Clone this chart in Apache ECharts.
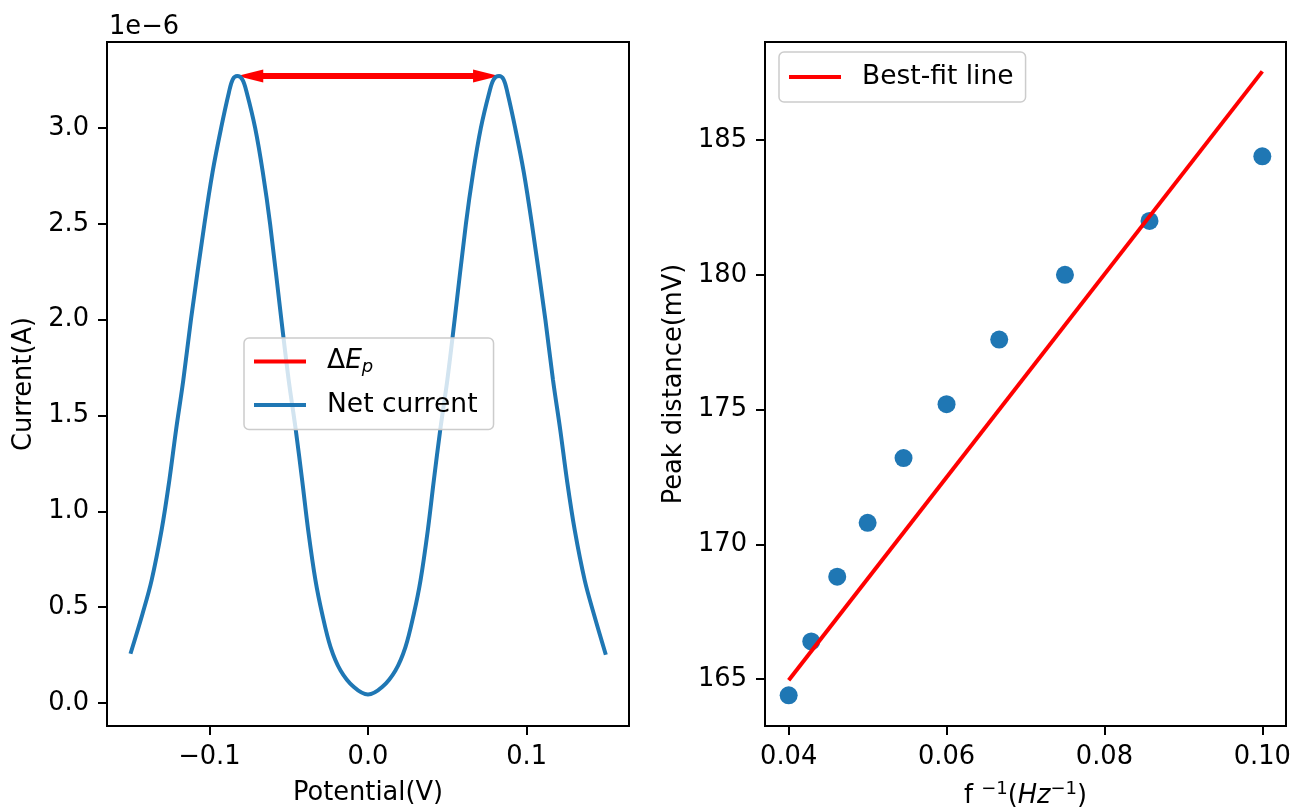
<!DOCTYPE html>
<html><head><meta charset="utf-8">
<script src="https://cdn.jsdelivr.net/npm/echarts@6/dist/echarts.min.js"></script>
<style>html,body{margin:0;padding:0;background:#fff}#c{width:1296px;height:810px}</style>
</head><body><div id="c"></div>
<script>
// ---- data (left panel: net current, in units of 1e-6 A) ----
const potential_V = [-0.1497,-0.1421,-0.1364,-0.1301,-0.1252,-0.1210,-0.1164,-0.1116,-0.1031,-0.0980,-0.0926,-0.0877,-0.0853,-0.0824,-0.0792,-0.0764,-0.0711,-0.0663,-0.0617,-0.0546,-0.0500,-0.0455,-0.0415,-0.0377,-0.0331,-0.0289,-0.0236,-0.0173,-0.0089,0,
                     0.0089,0.0173,0.0236,0.0289,0.0331,0.0377,0.0415,0.0455,0.0500,0.0546,0.0617,0.0663,0.0711,0.0764,0.0792,0.0826,0.0855,0.0879,0.0928,0.0982,0.1033,0.1118,0.1166,0.1212,0.1254,0.1303,0.1366,0.1423,0.1499];
const current_e6A = [0.257,0.466,0.640,0.902,1.163,1.424,1.686,2.00,2.50,2.77,3.00,3.185,3.254,3.272,3.254,3.185,3.00,2.77,2.50,2.00,1.686,1.424,1.163,0.902,0.640,0.466,0.292,0.170,0.083,0.044,
                     0.083,0.170,0.292,0.466,0.640,0.902,1.163,1.424,1.686,2.00,2.50,2.77,3.00,3.185,3.254,3.272,3.254,3.185,3.00,2.77,2.50,2.00,1.686,1.424,1.163,0.902,0.640,0.466,0.252];
// ---- data (right panel) ----
const inv_freq = [0.04, 0.04286, 0.04615, 0.05, 0.05455, 0.06, 0.06667, 0.075, 0.08571, 0.10];
const peak_distance_mV = [164.4, 166.4, 168.8, 170.8, 173.2, 175.2, 177.6, 180.0, 182.0, 184.4];
const fit_x = [0.04, 0.10];
const fit_y = [164.96, 187.55];
// ---- tick labels ----
const leftXTicks = [-0.1, 0, 0.1];
const leftYTicks = [0, 0.5, 1.0, 1.5, 2.0, 2.5, 3.0];
const rightXTicks = [0.04, 0.06, 0.08, 0.10];
const rightYTicks = [165, 170, 175, 180, 185];

const FONT = 'DejaVu Sans';
const FS = 25.7;
const LFS = 26.5;
const BLUE = '#1f77b4';
const RED = '#ff0000';

// peaks for the ΔEp arrow, found from the data
let iL = 0, iR = potential_V.length - 1;
potential_V.forEach((x, i) => {
  if (x < 0 && current_e6A[i] > current_e6A[iL]) iL = i;
  if (x > 0 && current_e6A[i] > current_e6A[iR]) iR = i;
});

const curveData = potential_V.map((x, i) => [x, current_e6A[i]]);
const scatterData = inv_freq.map((x, i) => [x, peak_distance_mV[i]]);
const fitData = fit_x.map((x, i) => [x, fit_y[i]]);

function axisCommon(ticks, fmt) {
  return {
    axisLine: { show: false, onZero: false },
    splitLine: { show: false },
    axisTick: { show: true, inside: false, length: 9, lineStyle: { color: '#000', width: 2 }, customValues: ticks },
    axisLabel: { customValues: ticks, formatter: fmt, color: '#000', fontFamily: FONT, fontSize: FS, margin: 18 },
    nameTextStyle: { color: '#000', fontFamily: FONT, fontSize: FS },
    nameLocation: 'middle'
  };
}

const chart = echarts.init(document.getElementById('c'));
chart.setOption({
  animation: false,
  textStyle: { fontFamily: FONT },
  grid: [
    { left: 107, top: 42, width: 522, height: 684, containLabel: false, outerBoundsMode: 'none', show: true, borderColor: '#000', borderWidth: 2, backgroundColor: 'transparent' },
    { left: 765, top: 42, width: 521, height: 684, containLabel: false, outerBoundsMode: 'none', show: true, borderColor: '#000', borderWidth: 2, backgroundColor: 'transparent' }
  ],
  xAxis: [
    Object.assign(axisCommon(leftXTicks, v => (Math.abs(v) < 1e-9 ? '0.0' : (v < 0 ? '\u2212' : '') + Math.abs(v).toFixed(1))), {
      type: 'value', gridIndex: 0, min: -0.1645, max: 0.1645, name: 'Potential(V)', nameGap: 54
    }),
    Object.assign(axisCommon(rightXTicks, v => v.toFixed(2)), {
      type: 'value', gridIndex: 1, min: 0.037, max: 0.103, nameGap: 54,
      name: '{a|f }{s|\u22121}{a|(}{i|Hz}{s|\u22121}{a|)}',
      nameTextStyle: {
        color: '#000', fontFamily: FONT, fontSize: FS,
        rich: {
          a: { fontFamily: FONT, fontSize: FS, color: '#000', lineHeight: 32 },
          i: { fontFamily: FONT, fontSize: FS, fontStyle: 'italic', color: '#000', lineHeight: 32 },
          s: { fontFamily: FONT, fontSize: 18, color: '#000', lineHeight: 22, verticalAlign: 'top' }
        }
      }
    })
  ],
  yAxis: [
    Object.assign(axisCommon(leftYTicks, v => v.toFixed(1)), {
      type: 'value', gridIndex: 0, min: -0.12, max: 3.45, name: 'Current(A)', nameGap: 70
    }),
    Object.assign(axisCommon(rightYTicks, v => String(v)), {
      type: 'value', gridIndex: 1, min: 163.26, max: 188.64, name: 'Peak distance(mV)', nameGap: 78
    })
  ],
  legend: [
    {
      data: ['dEp', 'Net current'],
      orient: 'vertical', left: 244, top: 338,
      padding: [10, 16, 11, 10], itemGap: 15,
      itemWidth: 52, itemHeight: 4, icon: 'rect',
      backgroundColor: 'rgba(255,255,255,0.8)', borderColor: '#cccccc', borderWidth: 1.5, borderRadius: 5,
      formatter: n => n === 'dEp' ? '{d|\u0394}{e|E}{p|p}' : '{n|' + n + '}',
      textStyle: {
        color: '#000', fontFamily: FONT, fontSize: LFS, padding: [0, 0, 0, 16],
        rich: {
          d: { fontFamily: FONT, fontSize: LFS, color: '#000', lineHeight: 30 },
          e: { fontFamily: FONT, fontSize: LFS, color: '#000', fontStyle: 'italic', lineHeight: 30 },
          p: { fontFamily: FONT, fontSize: 18, color: '#000', fontStyle: 'italic', lineHeight: 14, verticalAlign: 'bottom' },
          n: { fontFamily: FONT, fontSize: LFS, color: '#000', lineHeight: 30 }
        }
      }
    },
    {
      data: ['Best-fit line'],
      orient: 'vertical', left: 779, top: 52,
      padding: [10, 12, 10, 10],
      itemWidth: 52, itemHeight: 4, icon: 'rect',
      backgroundColor: 'rgba(255,255,255,0.8)', borderColor: '#cccccc', borderWidth: 1.5, borderRadius: 5,
      textStyle: { color: '#000', fontFamily: FONT, fontSize: LFS, lineHeight: 30, padding: [0, 0, 0, 16] }
    }
  ],
  graphic: [
    { type: 'text', left: 109, top: 14, style: { text: '1e\u22126', fontFamily: FONT, fontSize: FS, fill: '#000' } }
  ],
  series: [
    {
      name: 'Net current', type: 'line', xAxisIndex: 0, yAxisIndex: 0,
      data: curveData, showSymbol: false, symbol: 'none', smooth: 0.35,
      lineStyle: { color: BLUE, width: 4 }, itemStyle: { color: BLUE }, z: 3
    },
    {
      name: 'dEp', type: 'custom', xAxisIndex: 0, yAxisIndex: 0,
      data: [[potential_V[iL], current_e6A[iL], potential_V[iR], current_e6A[iR]]],
      itemStyle: { color: RED }, z: 2, silent: true,
      renderItem: (params, api) => {
        const p1 = api.coord([api.value(0), api.value(1)]);
        const p2 = api.coord([api.value(2), api.value(3)]);
        const L = 26, W = 13, sw = 6;
        return {
          type: 'group', children: [
            { type: 'line', shape: { x1: p1[0] + L - 2, y1: p1[1], x2: p2[0] - L + 2, y2: p2[1] }, style: { stroke: RED, lineWidth: sw } },
            { type: 'polygon', shape: { points: [[p1[0], p1[1]], [p1[0] + L, p1[1] - W / 2], [p1[0] + L, p1[1] + W / 2]] }, style: { fill: RED } },
            { type: 'polygon', shape: { points: [[p2[0], p2[1]], [p2[0] - L, p2[1] - W / 2], [p2[0] - L, p2[1] + W / 2]] }, style: { fill: RED } }
          ]
        };
      }
    },
    {
      name: 'Best-fit line', type: 'line', xAxisIndex: 1, yAxisIndex: 1,
      data: fitData, showSymbol: false, symbol: 'none',
      lineStyle: { color: RED, width: 4 }, itemStyle: { color: RED }, z: 3
    },
    {
      name: 'points', type: 'scatter', xAxisIndex: 1, yAxisIndex: 1,
      data: scatterData, symbol: 'circle', symbolSize: 18,
      itemStyle: { color: BLUE, opacity: 1 }, z: 2
    }
  ]
});
</script>
</body></html>
